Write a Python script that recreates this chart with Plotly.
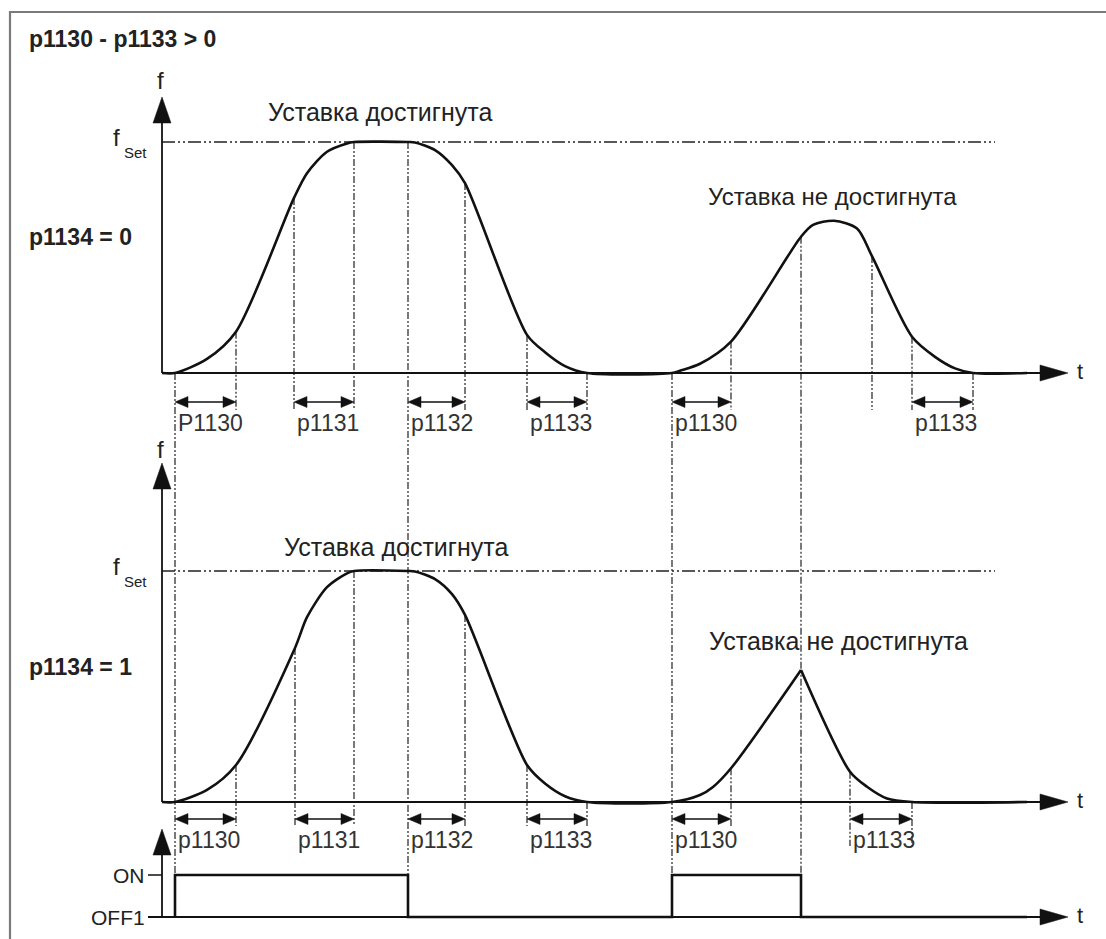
import numpy as np
import plotly.graph_objects as go

W, H = 1106, 939

# ------------------------------------------------------------------ data
# time in s (t = 0 : first ON command), frequency as fraction of f_Set,
# control signal: 0 = OFF1, 1 = ON
t_on = [0.00, 4.97]
t_off = [2.33, 6.26]

# p1134 = 0 : output frequency (key points)
curve1_t = [-0.13, 0.00, 0.32, 0.61, 1.19, 1.32, 1.52, 1.72, 1.79, 2.33, 2.40, 2.60,
            2.77, 2.90, 3.52, 3.70, 3.90, 4.12, 4.97, 5.05, 5.25, 5.56, 6.26, 6.38,
            6.59, 6.82, 6.97, 7.37, 7.60, 7.80, 7.98, 8.52]
curve1_f = [0.000, 0.000, 0.061, 0.179, 0.758, 0.865, 0.958, 0.994, 1.000, 1.000, 0.998, 0.965,
            0.900, 0.822, 0.165, 0.090, 0.030, 0.000, 0.000, 0.010, 0.040, 0.136, 0.590, 0.641,
            0.659, 0.626, 0.506, 0.157, 0.070, 0.020, 0.000, 0.000]

# p1134 = 1 : output frequency (rising part up to the OFF1 instant, then falling part)
curve2a_t = [-0.13, 0.00, 0.32, 0.61, 1.20, 1.32, 1.52, 1.72, 1.79, 2.33, 2.40, 2.60,
             2.77, 2.90, 3.52, 3.70, 3.90, 4.12, 4.97, 5.25, 5.38, 5.56, 6.26]
curve2a_f = [0.000, 0.000, 0.052, 0.160, 0.667, 0.800, 0.930, 0.990, 1.000, 1.000, 0.998, 0.965,
             0.900, 0.810, 0.160, 0.080, 0.025, 0.000, 0.000, 0.030, 0.065, 0.146, 0.571]
curve2b_t = [6.26, 6.75, 6.92, 7.12, 7.37, 8.52]
curve2b_f = [0.571, 0.131, 0.066, 0.015, 0.000, 0.000]

# ON / OFF1 command
sig_t = [0.00, 0.00, 2.33, 2.33, 4.97, 4.97, 6.26, 6.26, 8.52]
sig_v = [0, 1, 1, 0, 0, 1, 1, 0, 0]

# ramp / rounding intervals
int1_start = [0.00, 1.19, 2.33, 3.52, 4.97, 7.37]
int1_end = [0.61, 1.79, 2.90, 4.12, 5.56, 7.98]
int1_label = ["P1130", "p1131", "p1132", "p1133", "p1130", "p1133"]
int2_start = [0.00, 1.20, 2.33, 3.52, 4.97, 6.75]
int2_end = [0.61, 1.79, 2.90, 4.12, 5.56, 7.37]
int2_label = ["p1130", "p1131", "p1132", "p1133", "p1130", "p1133"]

# auxiliary vertical markers
vl1_t = [0.61, 1.19, 1.79, 2.90, 3.52, 4.12, 5.56, 6.97, 7.37, 7.98]
vl2_t = [0.61, 1.20, 1.79, 2.90, 3.52, 4.12, 5.56, 6.75, 7.37]
span_t = [0.00, 2.33, 4.97, 6.26]

texts_reached = "Уставка достигнута"
texts_not = "Уставка не достигнута"

# ------------------------------------------------------------------ layout geometry
X0_PX, PX_PER_S = 175.0, 100.0          # time axis scale
P1_BASE, P2_BASE, P_H = 373.0, 802.0, 231.0
S_BASE, S_H = 917.0, 42.0


def xr(px):
    return (px - X0_PX) / PX_PER_S


x_range = [xr(0), xr(W)]
y1_range = [(P1_BASE - H) / P_H, P1_BASE / P_H]
y2_range = [(P2_BASE - H) / P_H, P2_BASE / P_H]
y3_range = [(S_BASE - H) / S_H, S_BASE / S_H]


def py1(py):  # pixel row -> panel-1 value
    return (P1_BASE - py) / P_H


def py2(py):
    return (P2_BASE - py) / P_H


def py3(py):
    return (S_BASE - py) / S_H


def s_to_y1(s):  # signal value -> panel-1 coordinate
    return py1(S_BASE - s * S_H)


def paper(px, py):
    return px / W, 1 - py / H


AX_X = xr(162)
T_TIP = xr(1068)
BLACK = "#111111"
GRAY = "#333333"
FONT = "Liberation Sans, Arial, sans-serif"
DASH_V = "7px,2px,2px,2px,2px,2px"
DASH_H = "13px,3px,2px,3px,2px,3px"

fig = go.Figure()
shapes = []
ann = []


def line(xs, ys, yaxis="y", color=BLACK, width=2.0, dash="solid", shape="linear", smoothing=1.0):
    fig.add_trace(go.Scatter(x=xs, y=ys, yaxis=yaxis, mode="lines", hoverinfo="skip",
                             line=dict(color=color, width=width, dash=dash, shape=shape,
                                       smoothing=smoothing)))


def head(x, y, yref, path):
    shapes.append(dict(type="path", xref="x", yref=yref, xsizemode="pixel", ysizemode="pixel",
                       xanchor=x, yanchor=y, path=path, fillcolor=BLACK,
                       line=dict(color=BLACK, width=0.5), layer="above"))


UP = "M0,0 L-9,-26 L9,-26 Z"
RIGHT = "M0,0 L-28,8 L-28,-8 Z"
HL = "M0,0 L13,5.5 L13,-5.5 Z"
HR = "M0,0 L-13,5.5 L-13,-5.5 Z"

# ---------------- f_Set reference lines
line([AX_X, xr(995)], [1, 1], "y", color="#222222", width=1.5, dash=DASH_H)
line([AX_X, xr(995)], [1, 1], "y2", color="#222222", width=1.5, dash=DASH_H)

# ---------------- vertical markers
for t in vl1_t:
    top = float(np.interp(t, curve1_t, curve1_f))
    line([t, t], [top, py1(410)], "y", color=GRAY, width=1.3, dash=DASH_V)
for t in vl2_t:
    top = float(np.interp(t, curve2a_t + curve2b_t[1:], curve2a_f + curve2b_f[1:]))
    bottom = py2(846) if t > 6.5 else py2(826)
    line([t, t], [top, bottom], "y2", color=GRAY, width=1.3, dash=DASH_V)
for t in span_t:
    top = float(np.interp(t, curve1_t, curve1_f))
    line([t, t], [top, s_to_y1(1)], "y", color=GRAY, width=1.3, dash=DASH_V)

# ---------------- axes
for yref, base_tip in (("y", py1(97)), ("y2", py2(463))):
    line([AX_X, AX_X], [0, base_tip - 0.05], yref, width=1.8)
    line([AX_X, xr(1045)], [0, 0], yref, width=1.8)
    head(AX_X, base_tip, yref, UP)
    head(T_TIP, 0, yref, RIGHT)
line([AX_X, AX_X], [0, py3(829) - 0.3], "y3", width=1.8)
line([xr(148), xr(1045)], [0, 0], "y3", width=1.8)
line([xr(148), AX_X], [1, 1], "y3", width=1.5)
head(AX_X, py3(829), "y3", UP)
head(T_TIP, 0, "y3", RIGHT)

# ---------------- curves
line(curve1_t, curve1_f, "y", width=2.6, shape="spline", smoothing=0.8)
line(curve2a_t, curve2a_f, "y2", width=2.6, shape="spline", smoothing=0.8)
line(curve2b_t, curve2b_f, "y2", width=2.6, shape="spline", smoothing=0.8)
line(sig_t, sig_v, "y3", width=2.6)

# ---------------- interval arrows + labels
for starts, ends, labels, yref, ya, yl in (
        (int1_start, int1_end, int1_label, "y", py1(402), py1(423)),
        (int2_start, int2_end, int2_label, "y2", py2(819), py2(840))):
    for a, b, lab in zip(starts, ends, labels):
        line([a + 0.05, b - 0.05], [ya, ya], yref, width=1.6)
        head(a, ya, yref, HL)
        head(b, ya, yref, HR)
        ann.append(dict(x=a, y=yl, xref="x", yref=yref, text=lab, showarrow=False,
                        xanchor="left", yanchor="middle", xshift=1,
                        font=dict(family=FONT, size=23, color="#333333")))


# ---------------- texts
def txt(x, y, s, yref="y", size=23, xanchor="center", bold=False, color="#222222"):
    ann.append(dict(x=x, y=y, xref="x", yref=yref, text=("<b>%s</b>" % s) if bold else s,
                    showarrow=False, xanchor=xanchor, yanchor="middle",
                    font=dict(family=FONT, size=size, color=color)))


txt(xr(380), py1(112), texts_reached, size=25)
txt(xr(832), py1(196), texts_not, size=24)
txt(xr(396), py2(547), texts_reached, "y2", size=25)
txt(xr(838), py2(641), texts_not, "y2", size=25)
txt(xr(160), py1(80), "f", size=24)
txt(xr(160), py2(449), "f", "y2", size=24)
txt(xr(1080), py1(371), "t", size=22)
txt(xr(1080), py2(800), "t", "y2", size=22)
txt(xr(1080), py3(915), "t", "y3", size=22)
# f_Set labels: main letter and subscript as separate texts
txt(xr(122), py1(137), "f", size=24, xanchor="right")
txt(xr(122), py1(152), "Set", size=15, xanchor="left")
txt(xr(122), py2(566), "f", "y2", size=24, xanchor="right")
txt(xr(122), py2(581), "Set", "y2", size=15, xanchor="left")
txt(xr(147), 1, "ON", "y3", size=21, xanchor="right")
txt(xr(147), 0, "OFF1", "y3", size=21, xanchor="right")
txt(xr(27), py1(39), "p1130 - p1133 &gt; 0", size=23, xanchor="left", bold=True)
txt(xr(27), py1(237), "p1134 = 0", size=23, xanchor="left", bold=True)
txt(xr(27), py2(667), "p1134 = 1", "y2", size=23, xanchor="left", bold=True)

# ---------------- outer frame (top and left edges visible)
fx0, fy0 = paper(10, 12)
shapes.append(dict(type="path", xref="paper", yref="paper",
                   path="M%f,%f L%f,%f L%f,%f" % (fx0, -0.05, fx0, fy0, 1.05, fy0),
                   line=dict(color="#7a7a7a", width=2.2), layer="above"))

fig.update_layout(
    width=W, height=H, margin=dict(l=0, r=0, t=0, b=0),
    paper_bgcolor="white", plot_bgcolor="white", showlegend=False,
    xaxis=dict(range=x_range, visible=False, fixedrange=True),
    yaxis=dict(range=y1_range, visible=False, fixedrange=True),
    yaxis2=dict(range=y2_range, visible=False, overlaying="y", fixedrange=True),
    yaxis3=dict(range=y3_range, visible=False, overlaying="y", fixedrange=True),
    shapes=shapes, annotations=ann,
)
fig.write_html("out.html", config={"displayModeBar": False},
               post_script="document.body.style.margin='0';document.body.style.overflow='hidden';")
